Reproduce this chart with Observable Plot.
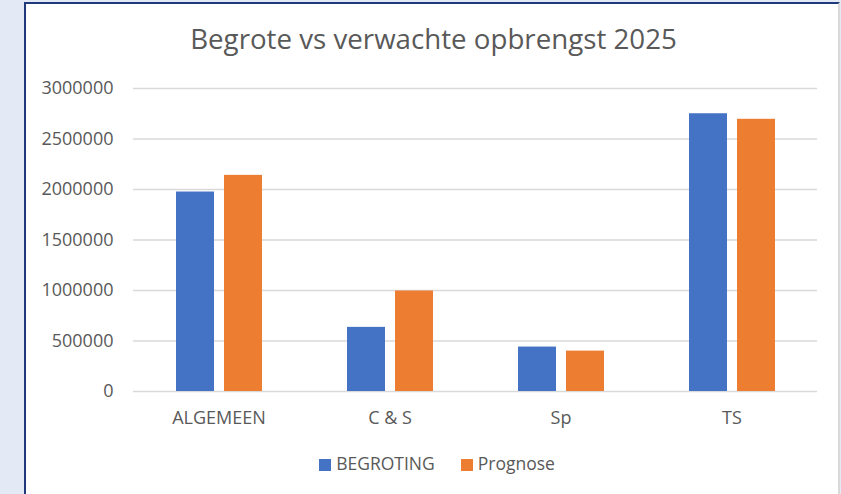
<!DOCTYPE html>
<html>
<head>
<meta charset="utf-8">
<script src="https://cdn.jsdelivr.net/npm/d3@7"></script>
<script src="https://cdn.jsdelivr.net/npm/@observablehq/plot@0.6"></script>
<style>
  html, body { margin: 0; padding: 0; }
  body { width: 841px; height: 494px; background: #e4eaf5; position: relative; overflow: hidden; font-family: "Open Sans", sans-serif; }
  #box { position: absolute; left: 24px; top: 2px; width: 812px; height: 520px; background: #fff;
         border-left: 2px solid #1f3a7a; border-top: 2px solid #1f3a7a; border-right: 2px solid #d9d9d9; }
  #title { position: absolute; left: 0; width: 867px; top: 20px; line-height: 36px; text-align: center; font-size: 27.7px; color: #595959; }
  #chart { position: absolute; left: 0; top: 0; }
  #legend { position: absolute; left: 0; width: 874px; top: 451px; text-align: center; font-size: 17.5px; color: #595959; }
  #legend span.item { display: inline-block; margin: 0 13px; }
  #legend span.sw { display: inline-block; width: 12px; height: 12px; margin-right: 5px; vertical-align: -1px; }
</style>
</head>
<body>
<div id="box"></div>
<div id="chart"></div>
<div id="title">Begrote vs verwachte opbrengst 2025</div>
<div id="legend"></div>
<script>
const categories = ["ALGEMEEN", "C & S", "Sp", "TS"];
const seriesNames = ["BEGROTING", "Prognose"];
const begroting = [1975000, 635000, 440000, 2750000];
const prognose = [2140000, 995000, 400000, 2695000];
const yTicks = [0, 500000, 1000000, 1500000, 2000000, 2500000, 3000000];
const colors = ["#4472C4", "#ED7D31"];

const data = [];
categories.forEach((c, i) => {
  data.push({category: c, series: seriesNames[0], value: begroting[i]});
  data.push({category: c, series: seriesNames[1], value: prognose[i]});
});

const plot = Plot.plot({
  width: 841,
  height: 430,
  marginLeft: 133,
  marginRight: 24,
  marginTop: 88,
  marginBottom: 39,
  style: {background: "transparent", fontFamily: "Open Sans", fontSize: "18px", color: "#595959"},
  fx: {domain: categories, padding: 0, label: null, tickSize: 0, tickPadding: 20, axis: "bottom"},
  x: {domain: seriesNames, axis: null, paddingInner: 0.21, paddingOuter: 0.885},
  y: {domain: [0, 3000000], ticks: yTicks, tickFormat: d => String(d), tickSize: 0, tickPadding: 20, label: null},
  color: {domain: seriesNames, range: colors},
  marks: [
    Plot.gridY(yTicks, {stroke: "#d9d9d9", strokeOpacity: 1, strokeWidth: 1.5}),
    Plot.barY(data, {fx: "category", x: "series", y: "value", fill: "series"})
  ]
});
document.getElementById("chart").appendChild(plot);

const legend = document.getElementById("legend");
seriesNames.forEach((s, i) => {
  const item = document.createElement("span");
  item.className = "item";
  const sw = document.createElement("span");
  sw.className = "sw";
  sw.style.background = colors[i];
  item.appendChild(sw);
  item.appendChild(document.createTextNode(s));
  legend.appendChild(item);
});
</script>
</body>
</html>
